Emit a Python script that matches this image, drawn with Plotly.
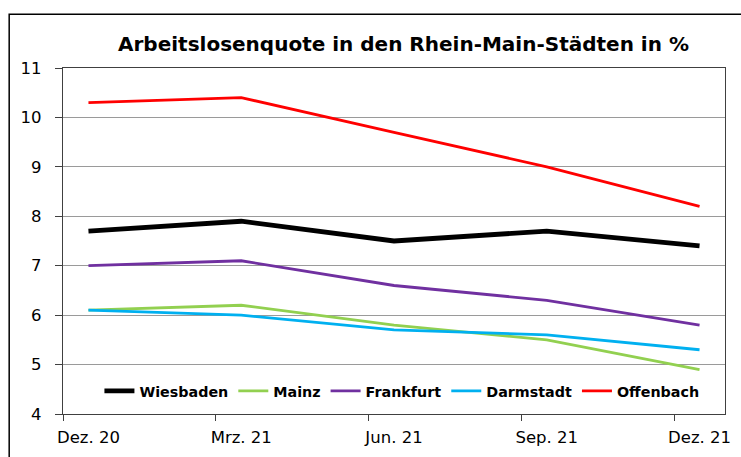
import plotly.graph_objects as go

cat_idx = [0, 3, 6, 9, 12]
tick_labels = ["Dez. 20", "Mrz. 21", "Jun. 21", "Sep. 21", "Dez. 21"]

wiesbaden = [7.7, 7.9, 7.5, 7.7, 7.4]
mainz = [6.1, 6.2, 5.8, 5.5, 4.9]
frankfurt = [7.0, 7.1, 6.6, 6.3, 5.8]
darmstadt = [6.1, 6.0, 5.7, 5.6, 5.3]
offenbach = [10.3, 10.4, 9.7, 9.0, 8.2]

series = [
    ("Wiesbaden", wiesbaden, "#000000", 4.8),
    ("Mainz", mainz, "#92D050", 2.8),
    ("Frankfurt", frankfurt, "#7030A0", 2.8),
    ("Darmstadt", darmstadt, "#00B0F0", 2.8),
    ("Offenbach", offenbach, "#FF0000", 2.8),
]

fig = go.Figure()
for name, vals, col, w in series:
    fig.add_trace(go.Scatter(x=cat_idx, y=vals, name=name, mode="lines",
                             line=dict(color=col, width=w)))

W, H = 741, 457
L, R, T, B = 63, 731, 68, 416
pw, ph = R - L, B - T

def px(x):
    return (x - L) / pw

def py(y):
    return (B - y) / ph

FONT = "DejaVu Sans, Verdana, sans-serif"

fig.update_layout(
    width=W, height=H,
    margin=dict(l=L, r=W - R, t=T, b=H - B, pad=0),
    paper_bgcolor="white", plot_bgcolor="white",
    font=dict(family=FONT, size=16, color="black"),
    showlegend=True,
    legend=dict(orientation="h", x=px(405), xanchor="center", y=py(393), yanchor="middle",
                font=dict(size=14.3, family=FONT, color="black", weight="bold"),
                bgcolor="rgba(0,0,0,0)", itemwidth=30, tracegroupgap=0),
    annotations=[dict(text="<b>Arbeitslosenquote in den Rhein-Main-Städten in %</b>",
                      x=px(407), y=py(44), xref="paper", yref="paper",
                      showarrow=False, xanchor="center", yanchor="middle",
                      font=dict(size=20, family=FONT, color="black"))],
    shapes=[dict(type="rect", xref="paper", yref="paper",
                 x0=px(8.7), x1=px(760), y0=py(470), y1=py(14),
                 line=dict(color="black", width=1.5), fillcolor="rgba(0,0,0,0)", layer="below")],
)

fig.update_xaxes(range=[-0.5, 12.5], tickmode="array", tickvals=cat_idx, ticktext=tick_labels,
                 ticks="outside", ticklen=6, tickcolor="rgba(0,0,0,0)",
                 ticklabelstandoff=2, ticklabeloverflow="allow",
                 showgrid=False, zeroline=False,
                 showline=True, linecolor="#404040", linewidth=1.2, mirror=True,
                 tickfont=dict(size=16.5),
                 minor=dict(tickmode="array", tickvals=[-0.5, 2.5, 5.5, 8.5, 11.5],
                            ticks="outside", ticklen=6, tickcolor="#404040", tickwidth=1.2,
                            showgrid=False))
fig.update_yaxes(range=[4, 11], tickvals=[4, 5, 6, 7, 8, 9, 10, 11], ticks="outside",
                 ticklen=7, tickcolor="#404040", tickwidth=1.2, ticklabelstandoff=10,
                 showgrid=True, gridcolor="#9a9a9a", gridwidth=1, zeroline=False,
                 showline=True, linecolor="#404040", linewidth=1.2, mirror=True,
                 tickfont=dict(size=16.5))

fig.write_html("out.html", config={"displayModeBar": False},
               post_script="document.body.style.margin='0';document.body.style.overflow='hidden';")
